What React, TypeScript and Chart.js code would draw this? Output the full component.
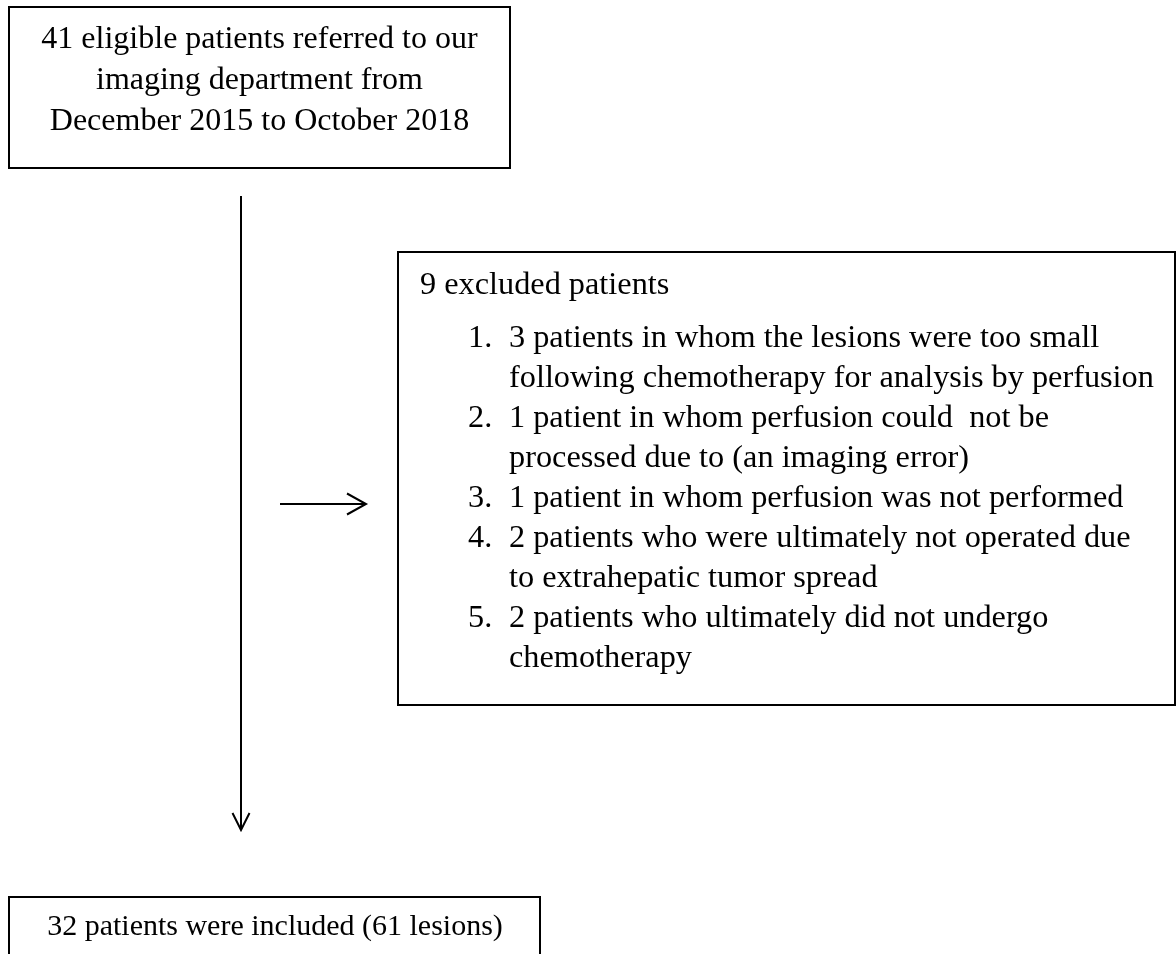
import React, { useEffect, useRef } from "react";
import { Chart, registerables } from "chart.js";

Chart.register(...registerables);

// ---- content (text) ----
const TOP_BOX_LINES = [
  "41 eligible patients referred to our",
  "imaging department from",
  "December 2015 to October 2018",
];
const EXCLUDED_TITLE = "9 excluded patients";
const EXCLUDED_NUMBERS = ["1.", "2.", "3.", "4.", "5."];
const EXCLUDED_ITEMS = [
  ["3 patients in whom the lesions were too small", "following chemotherapy for analysis by perfusion"],
  ["1 patient in whom perfusion could  not be", "processed due to (an imaging error)"],
  ["1 patient in whom perfusion was not performed"],
  ["2 patients who were ultimately not operated due", "to extrahepatic tumor spread"],
  ["2 patients who ultimately did not undergo", "chemotherapy"],
];
const INCLUDED_TEXT = "32 patients were included (61 lesions)";

// ---- layout (positions in canvas units, text y = baseline) ----
const W = 1176;
const H = 954;
const LAYOUT = {
  topBox: { x0: 9, y0: 7, x1: 510, y1: 168, cx: 259.5, firstLine: 48, lineGap: 41, font: 32 },
  exBox: { x0: 398, y0: 252, x1: 1175, y1: 705, titleX: 420, titleY: 294, numX: 468, textX: 509, firstLine: 347, lineGap: 40, font: 32.3 },
  inBox: { x0: 9, y0: 897, x1: 540, y1: 970, cx: 275, textY: 935, font: 30 },
  vArrow: { x: 241, y0: 196, y1: 830, headLen: 17, headHalf: 8.5 },
  hArrow: { y: 504, x0: 280, x1: 366, headLen: 19, headHalf: 10.5 },
};

const FONT_FAMILY = '"Liberation Serif", "Times New Roman", serif';

const flowPlugin = {
  id: "flowchart",
  afterDraw(chart: any) {
    const ctx = chart.ctx as CanvasRenderingContext2D;
    const xs = chart.scales.x;
    const ys = chart.scales.y;
    const px = (v: number) => xs.getPixelForValue(v);
    const py = (v: number) => ys.getPixelForValue(v);
    ctx.save();
    ctx.fillStyle = "#ffffff";
    ctx.fillRect(0, 0, chart.width, chart.height);
    ctx.strokeStyle = "#000000";
    ctx.fillStyle = "#000000";
    ctx.lineWidth = 2;

    const rect = (b: any) => {
      ctx.strokeRect(px(b.x0), py(b.y0), px(b.x1) - px(b.x0), py(b.y1) - py(b.y0));
    };
    const L = LAYOUT;
    rect(L.topBox);
    rect(L.exBox);
    rect(L.inBox);

    ctx.textBaseline = "alphabetic";

    // top box text
    ctx.textAlign = "center";
    ctx.font = `${L.topBox.font}px ${FONT_FAMILY}`;
    TOP_BOX_LINES.forEach((t, i) => {
      ctx.fillText(t, px(L.topBox.cx), py(L.topBox.firstLine + i * L.topBox.lineGap));
    });

    // excluded box
    ctx.textAlign = "left";
    ctx.font = `${L.exBox.font}px ${FONT_FAMILY}`;
    ctx.fillText(EXCLUDED_TITLE, px(L.exBox.titleX), py(L.exBox.titleY));
    let line = 0;
    EXCLUDED_ITEMS.forEach((item, i) => {
      ctx.fillText(EXCLUDED_NUMBERS[i], px(L.exBox.numX), py(L.exBox.firstLine + line * L.exBox.lineGap));
      item.forEach((t) => {
        ctx.fillText(t, px(L.exBox.textX), py(L.exBox.firstLine + line * L.exBox.lineGap));
        line++;
      });
    });

    // included box
    ctx.textAlign = "center";
    ctx.font = `${L.inBox.font}px ${FONT_FAMILY}`;
    ctx.fillText(INCLUDED_TEXT, px(L.inBox.cx), py(L.inBox.textY));

    // arrows (open heads)
    const v = L.vArrow;
    const hA = L.hArrow;
    ctx.lineCap = "butt";
    ctx.lineJoin = "miter";
    ctx.beginPath();
    ctx.moveTo(px(v.x), py(v.y0));
    ctx.lineTo(px(v.x), py(v.y1));
    ctx.moveTo(px(v.x - v.headHalf), py(v.y1 - v.headLen));
    ctx.lineTo(px(v.x), py(v.y1));
    ctx.lineTo(px(v.x + v.headHalf), py(v.y1 - v.headLen));
    ctx.moveTo(px(hA.x0), py(hA.y));
    ctx.lineTo(px(hA.x1), py(hA.y));
    ctx.moveTo(px(hA.x1 - hA.headLen), py(hA.y - hA.headHalf));
    ctx.lineTo(px(hA.x1), py(hA.y));
    ctx.lineTo(px(hA.x1 - hA.headLen), py(hA.y + hA.headHalf));
    ctx.stroke();
    ctx.restore();
  },
};

export default function App() {
  const ref = useRef<HTMLCanvasElement | null>(null);
  useEffect(() => {
    document.body.style.margin = "0";
    const canvas = ref.current!;
    const chart = new Chart(canvas, {
      type: "scatter",
      data: { datasets: [{ data: [], pointRadius: 0 }] },
      options: {
        animation: false,
        responsive: false,
        devicePixelRatio: 1,
        layout: { padding: 0 },
        events: [],
        plugins: { legend: { display: false }, tooltip: { enabled: false } },
        scales: {
          x: { type: "linear", min: 0, max: W, display: false },
          y: { type: "linear", min: 0, max: H, reverse: true, display: false },
        },
      },
      plugins: [flowPlugin],
    });
    return () => chart.destroy();
  }, []);
  return (
    <div style={{ width: W, height: H, background: "#fff" }}>
      <canvas ref={ref} width={W} height={H} style={{ display: "block" }} />
    </div>
  );
}
